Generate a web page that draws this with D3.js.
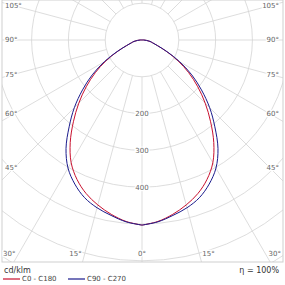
<!DOCTYPE html>
<html>
<head>
<meta charset="utf-8">
<script src="https://cdn.jsdelivr.net/npm/d3@7"></script>
<style>
  body { margin: 0; background: #fff; }
  svg { display: block; font-family: "DejaVu Sans", sans-serif; }
</style>
</head>
<body>
<svg id="chart" width="285" height="285"></svg>
<script>
// gamma angles (deg) and luminous intensity (cd/klm)
const gammas = [0, 5, 10, 15, 20, 25, 30, 35, 40, 45, 50, 55, 60, 65, 70, 75, 80, 85, 90, 95, 180];
const c0c180 = [503, 495, 481, 464, 444, 418, 385, 340, 290, 243, 198, 155, 113, 73, 45, 30, 22, 12, 5, 0, 0];
const c90c270 = [503, 496, 484, 472, 456, 432, 402, 360, 308, 260, 211, 165, 118, 75, 45, 30, 22, 12, 5, 0, 0];
const rings = [100, 200, 300, 400, 500, 600, 700];
const ringLabels = [200, 300, 400];
const spokeAngles = d3.range(0, 360, 15);
const sideLabels = [45, 60, 75, 90, 105];
const bottomLabels = [0, 15, 30];
const seriesNames = ['C0 - C180', 'C90 - C270'];
const seriesColors = ['#c8102e', '#1a1a8c'];

const svg = d3.select('#chart');
const cx = 142, cy = 40;
const frame = {x0: 2, y0: 0, x1: 283, y1: 262};
const r = d3.scaleLinear().domain([0, 100]).range([0, 36.8]);

svg.append('clipPath').attr('id', 'clip')
    .append('rect')
    .attr('x', frame.x0).attr('y', frame.y0)
    .attr('width', frame.x1 - frame.x0).attr('height', frame.y1 - frame.y0);

const grid = svg.append('g').attr('clip-path', 'url(#clip)');
const g = grid.append('g').attr('transform', `translate(${cx},${cy})`);

const rad = d => d * Math.PI / 180;

// rings
g.selectAll('circle.ring')
    .data(rings)
    .enter()
    .append('circle')
    .attr('r', d => r(d))
    .attr('fill', 'none')
    .attr('stroke', '#d4d4d4')
    .attr('stroke-width', 0.8);

// spokes (0 deg points down)
g.selectAll('line.spoke')
    .data(spokeAngles)
    .enter()
    .append('line')
    .attr('x1', d => r(100) * Math.sin(rad(d)))
    .attr('y1', d => r(100) * Math.cos(rad(d)))
    .attr('x2', d => r(1200) * Math.sin(rad(d)))
    .attr('y2', d => r(1200) * Math.cos(rad(d)))
    .attr('stroke', '#d4d4d4')
    .attr('stroke-width', 0.8);

// intensity curves
function loop(vals) {
    let pts = [];
    gammas.forEach((gm, i) => pts.push([Math.PI - rad(gm), r(vals[i])]));
    for (let i = gammas.length - 1; i >= 0; i--) pts.push([Math.PI + rad(gammas[i]), r(vals[i])]);
    return pts;
}
const radial = d3.lineRadial().curve(d3.curveCatmullRom);
[c0c180, c90c270].forEach((vals, i) => {
    g.append('path')
        .attr('d', radial(loop(vals)))
        .attr('fill', 'none')
        .attr('stroke', seriesColors[i])
        .attr('stroke-width', 1);
});

// ring value labels
g.selectAll('text.ringlabel')
    .data(ringLabels)
    .enter()
    .append('text')
    .attr('x', 0)
    .attr('y', d => r(d))
    .attr('dy', '0.35em')
    .attr('text-anchor', 'middle')
    .attr('font-size', 7)
    .attr('fill', '#666')
    .attr('stroke', '#fff')
    .attr('stroke-width', 2.5)
    .attr('paint-order', 'stroke')
    .text(d => d);

// frame
svg.append('rect')
    .attr('x', frame.x0).attr('y', frame.y0)
    .attr('width', frame.x1 - frame.x0).attr('height', frame.y1 - frame.y0)
    .attr('fill', 'none')
    .attr('stroke', '#cfcfcf')
    .attr('stroke-width', 1);

// angle labels
const lab = svg.append('g')
    .attr('font-size', 7)
    .attr('fill', '#666')
    .attr('stroke', '#fff')
    .attr('stroke-width', 2.5)
    .attr('paint-order', 'stroke');

[-1, 1].forEach(side => {
    sideLabels.forEach(a => {
        const xEdge = side < 0 ? 14 : 270;
        const t = Math.abs(xEdge - cx) / Math.sin(rad(a));
        lab.append('text')
            .attr('x', side < 0 ? 5 : 279)
            .attr('y', cy + t * Math.cos(rad(a)))
            .attr('dy', '0.35em')
            .attr('text-anchor', side < 0 ? 'start' : 'end')
            .text(a + '°');
    });
    bottomLabels.forEach(a => {
        if (a === 0 && side > 0) return;
        const yb = 254;
        const xs = cx + side * (yb - cy) * Math.tan(rad(a));
        lab.append('text')
            .attr('x', a === 0 ? xs : xs + side * 3)
            .attr('y', yb)
            .attr('dy', '0.35em')
            .attr('text-anchor', a === 0 ? 'middle' : (side < 0 ? 'end' : 'start'))
            .text(a + '°');
    });
});

// unit + efficiency
svg.append('text')
    .attr('x', 4).attr('y', 273)
    .attr('font-size', 8).attr('fill', '#333')
    .text('cd/klm');
svg.append('text')
    .attr('x', 279).attr('y', 273)
    .attr('text-anchor', 'end')
    .attr('font-size', 8).attr('fill', '#333')
    .text('η = 100%');

// legend
const leg = svg.append('g');
seriesNames.forEach((name, i) => {
    const x0 = i === 0 ? 3 : 68;
    leg.append('line')
        .attr('x1', x0).attr('x2', x0 + 17)
        .attr('y1', 279).attr('y2', 279)
        .attr('stroke', seriesColors[i])
        .attr('stroke-width', 1.2);
    leg.append('text')
        .attr('x', x0 + 19).attr('y', 279)
        .attr('dy', '0.35em')
        .attr('font-size', 7).attr('fill', '#444')
        .text(name);
});
</script>
</body>
</html>
